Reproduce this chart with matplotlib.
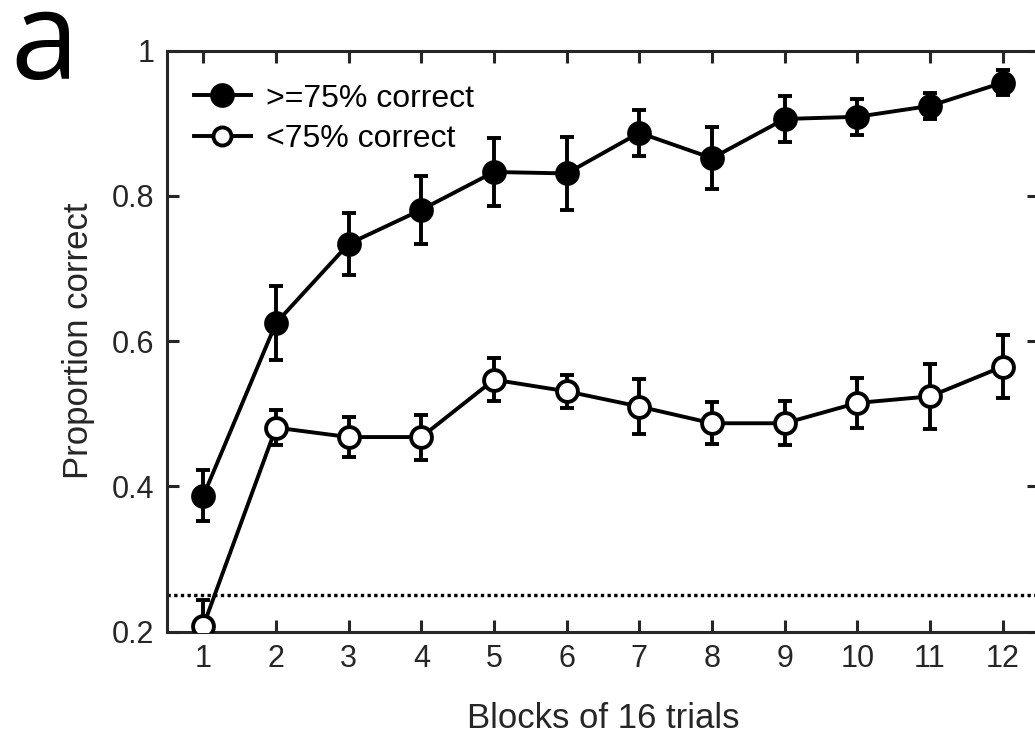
import matplotlib.pyplot as plt
from matplotlib.lines import Line2D

# Blocks of 16 trials
blocks = [1, 2, 3, 4, 5, 6, 7, 8, 9, 10, 11, 12]

# Participants with >=75% correct
high_mean = [0.387, 0.625, 0.734, 0.781, 0.833, 0.831, 0.887, 0.852, 0.906, 0.909, 0.924, 0.956]
high_err = [0.035, 0.051, 0.043, 0.047, 0.047, 0.050, 0.032, 0.043, 0.032, 0.025, 0.018, 0.017]

# Participants with <75% correct
low_mean = [0.208, 0.481, 0.468, 0.468, 0.547, 0.531, 0.510, 0.487, 0.487, 0.515, 0.524, 0.565]
low_err = [0.035, 0.024, 0.027, 0.031, 0.030, 0.023, 0.038, 0.029, 0.030, 0.034, 0.045, 0.043]

chance = 0.25
y_ticks = [0.2, 0.4, 0.6, 0.8, 1.0]
y_tick_labels = ["0.2", "0.4", "0.6", "0.8", "1"]

axis_color = "#262626"
plt.rcParams["font.family"] = ["Liberation Sans", "DejaVu Sans"]

fig = plt.figure(figsize=(10.35, 7.4), dpi=100)
# right edge of the box falls just outside the picture, as in the original
ax = fig.add_axes([167 / 1035, 1 - 631.7 / 740, 872 / 1035, 581 / 740])

ax.axhline(chance, color="black", lw=2.4, ls=(0, (1, 1)), zorder=1)

style = dict(color="black", lw=2.8, elinewidth=2.8, capsize=5, capthick=2.8,
             marker="o", ms=15, mew=2.8, zorder=3)
ax.errorbar(blocks, high_mean, yerr=high_err, mfc="black", mec="black", **style)
ax.errorbar(blocks, low_mean, yerr=low_err, mfc="white", mec="black", **style)

ax.set_xlim(0.5, 12.5)
ax.set_ylim(0.2, 1.0)
ax.set_xticks(blocks)
ax.set_yticks(y_ticks)
ax.set_yticklabels(y_tick_labels)

for side in ["top", "bottom", "left", "right"]:
    ax.spines[side].set_color(axis_color)
    ax.spines[side].set_linewidth(2.2)
ax.tick_params(axis="both", direction="in", length=8.5, width=2.2, color=axis_color,
               labelcolor=axis_color, labelsize=22, top=True, right=True, pad=9)

ax.set_xlabel("Blocks of 16 trials", fontsize=25, color=axis_color, labelpad=20)
ax.set_ylabel("Proportion correct", fontsize=25, color=axis_color, labelpad=12)

# legend shows line + marker only, no error bars
handles = [Line2D([], [], color="black", lw=2.8, marker="o", ms=15, mew=2.8, mfc="black"),
           Line2D([], [], color="black", lw=2.8, marker="o", ms=13, mew=2.8, mfc="white")]
ax.legend(handles, [">=75% correct", "<75% correct"], loc="upper left",
          bbox_to_anchor=(0.005, 0.982), frameon=False, fontsize=23,
          handlelength=1.8, handletextpad=0.45, labelspacing=0.32, borderaxespad=0.3)

# panel letter
fig.text(0.01, 1 - 79 / 740, "a", fontsize=88, family="Open Sans", va="baseline", ha="left")

fig.savefig("out.png", dpi=100)
